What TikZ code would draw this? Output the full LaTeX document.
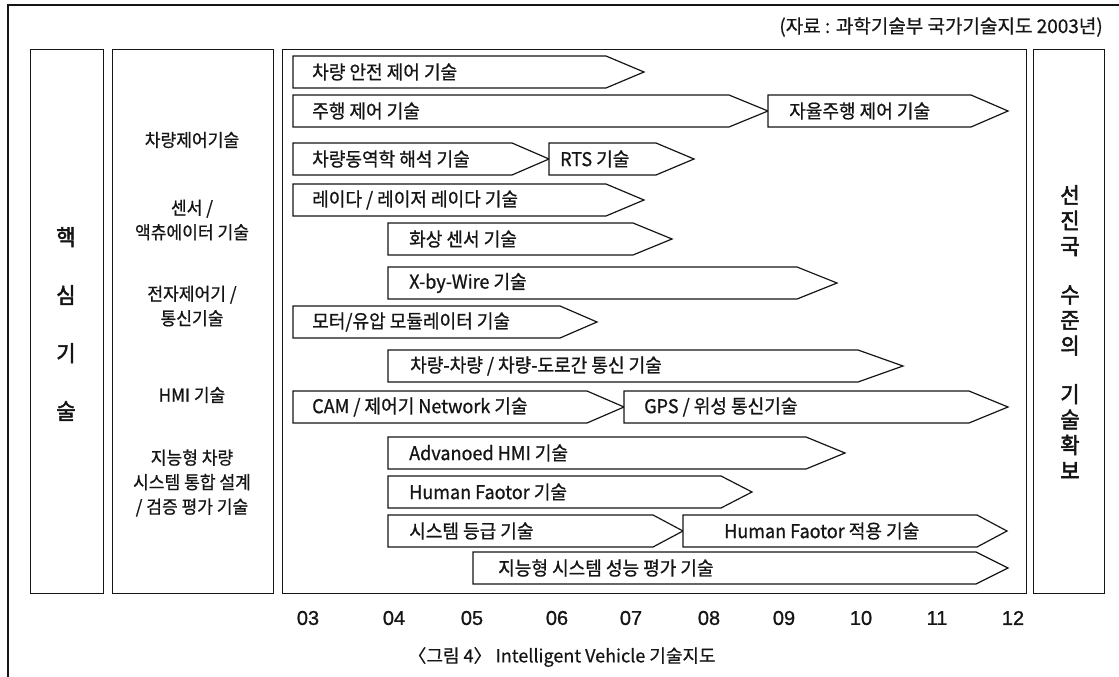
\documentclass[tikz,border=0pt]{standalone}
\usepackage{fontspec}
\usepackage{tikz}
\usetikzlibrary{positioning}
\newfontfamily\krfont{Noto Sans CJK KR}[FakeStretch=0.95,FakeBold=0.8]
\newfontfamily\krnote{Noto Sans CJK KR}[FakeBold=0.5]
\newfontfamily\krbold{Noto Sans CJK KR}[FakeStretch=0.95,FakeBold=2.5]
\newfontfamily\numfont{Liberation Sans}[FakeBold=1]
\definecolor{ink}{HTML}{151515}
\tikzset{
  frameline/.style={draw=ink,line width=1.1pt},
  colbox/.style={draw=ink,line width=1.3pt,anchor=north west,inner sep=0pt},
  bar/.style={draw=ink,line width=1.2pt,fill=white,line join=miter},
  bartext/.style={anchor=west,inner sep=0pt,text=ink,
    font=\krfont\fontsize{19}{20}\selectfont},
  grouptext/.style={align=center,inner sep=0pt,text=ink,
    font=\krfont\fontsize{18}{24.5}\selectfont},
  vtext/.style={align=center,inner sep=0pt,text=ink},
  yeartext/.style={inner sep=0pt,text=ink,font=\numfont\fontsize{20}{22}\selectfont},
  notetext/.style={inner sep=0pt,text=ink,font=\krnote\fontsize{18}{20}\selectfont}
}
% one roadmap bar: [text pad]{name}{left}{body end}{tip}{mid y}{label}
\newcommand{\techbar}[7][19]{%
  \draw[bar] (#3,#6-16) -- (#4,#6-16) -- (#5,#6) -- (#4,#6+16) -- (#3,#6+16) -- cycle;
  \node[bartext] (#2) at (#3+#1,#6) {#7};}

\begin{document}
\begin{tikzpicture}[x=1pt,y=-1pt]
\useasboundingbox (0,0) rectangle (1119,677);
\draw[frameline] (8,677) -- (8,5) -- (1119,5);

% source
\node[notetext,anchor=east,font=\krnote\fontsize{19}{20}\selectfont] (source) at (1103,27)
  {(자료 : 과학기술부 국가기술지도 2003년)};

% columns
\node[colbox,minimum width=73pt,minimum height=544pt] (corebox) at (30,49) {};
\node[colbox,minimum width=161pt,minimum height=544pt] (groupbox) at (112,49) {};
\node[colbox,minimum width=744pt,minimum height=544pt] (mapbox) at (282,49) {};
\node[colbox,minimum width=71pt,minimum height=544pt] (goalbox) at (1033,49) {};

\node[vtext,font=\krbold\fontsize{22}{58}\selectfont] (core) at (66,324) {핵\\심\\기\\술};
\node[vtext,font=\krbold\fontsize{22}{25.5}\selectfont] (goal) at (1070,332)
  {선\\진\\국\\[23pt]수\\준\\의\\[23pt]기\\술\\확\\보};

% groups
\node[grouptext] (vehctl) at (192,140) {차량제어기술};
\node[grouptext] (sensor) at (192,220) {센서 /\\액츄에이터 기술};
\node[grouptext] (ecu) at (192,306) {전자제어기 /\\통신기술};
\node[grouptext] (hmi) at (192,395) {HMI 기술};
\node[grouptext] (sysint) at (192,483) {지능형 차량\\시스템 통합 설계\\/ 검증 평가 기술};

% roadmap bars
\techbar{safety}{293}{606}{644}{72}{차량 안전 제어 기술}
\techbar{driving}{293}{729}{768}{111}{주행 제어 기술}
\techbar[21]{autodrive}{768}{971}{1008}{111}{자율주행 제어 기술}
\techbar{dynamics}{293}{512}{549}{159}{차량동역학 해석 기술}
\techbar[11]{rts}{549}{656}{694}{159}{RTS 기술}
\techbar{radar}{293}{606}{644}{200}{레이다 / 레이저 레이다 기술}
\techbar[21]{vision}{388}{633}{672}{239}{화상 센서 기술}
\techbar[21]{xbywire}{388}{797}{837}{283}{X-by-Wire 기술}
\techbar{modulator}{293}{560}{597}{322}{모터/유압 모듈레이터 기술}
\techbar[22]{v2x}{388}{858}{903}{366}{차량-차량 / 차량-도로간 통신 기술}
\techbar{cam}{293}{587}{624}{407}{CAM / 제어기 Network 기술}
\techbar[20]{gps}{624}{969}{1008}{407}{GPS / 위성 통신기술}
\techbar[21]{advhmi}{388}{806}{845}{453}{Advanoed HMI 기술}
\techbar[21]{hf}{388}{721}{752}{492}{Human Faotor 기술}
\techbar[21]{grade}{388}{653}{683}{531}{시스템 등급 기술}
\techbar[41]{hfapply}{683}{977}{1007}{531}{Human Faotor 적용 기술}
\techbar[25]{perf}{473}{976}{1008}{568}{지능형 시스템 성능 평가 기술}

% years
\foreach \yr/\xp in {03/308,04/394,05/472,06/557,07/631,08/709,09/784,10/861,11/937,12/1013}
  \node[yeartext] (yr\yr) at (\xp,618) {\yr};

\node[notetext] (caption) at (562,657) {〈그림 4〉 Intelligent Vehicle 기술지도};
\end{tikzpicture}
\end{document}
